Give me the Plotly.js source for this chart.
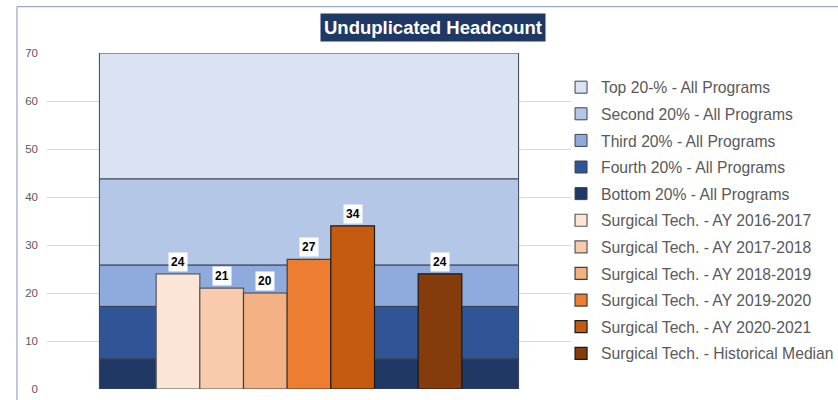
<!DOCTYPE html>
<html>
<head>
<meta charset="utf-8">
<script src="https://cdn.plot.ly/plotly-3.0.1.min.js"></script>
<style>
  html, body { margin: 0; padding: 0; background: #ffffff; }
  #chart { width: 838px; height: 400px; }
</style>
</head>
<body>
<div id="chart"></div>
<script>
// Benchmark bands (listed top to bottom), upper boundary of each band
const bandNames = ['Top 20-% - All Programs', 'Second 20% - All Programs', 'Third 20% - All Programs', 'Fourth 20% - All Programs', 'Bottom 20% - All Programs'];
const bandTops = [70, 43.75, 25.8, 17.2, 6.25];
const bandColors = ['#DAE3F3', '#B4C7E7', '#8FAADC', '#2F5597', '#203864'];

// Program series
const seriesNames = ['Surgical Tech. - AY 2016-2017', 'Surgical Tech. - AY 2017-2018', 'Surgical Tech. - AY 2018-2019', 'Surgical Tech. - AY 2019-2020', 'Surgical Tech. - AY 2020-2021', 'Surgical Tech. - Historical Median'];
const seriesValues = [24, 21, 20, 27, 34, 24];
const seriesPos = [1, 2, 3, 4, 5, 7];
const seriesColors = ['#FBE5D6', '#F8CBAD', '#F4B183', '#ED7D31', '#C55A11', '#843C0C'];
const seriesLines = ['#595959', '#595959', '#404040', '#404040', '#1a1a1a', '#1a1a1a'];

const yTicks = [0, 10, 20, 30, 40, 50, 60, 70];
const chartTitle = 'Unduplicated Headcount';

const FONT = 'Liberation Sans, Arial, sans-serif';
const traces = [];

bandNames.forEach((name, i) => {
  const lower = i < bandTops.length - 1 ? bandTops[i + 1] : 0;
  traces.push({
    type: 'bar',
    name: name,
    legendgroup: 'b' + i,
    x: [4],
    y: [bandTops[i] - lower],
    base: [lower],
    width: [9.6],
    marker: { color: bandColors[i], line: { color: '#3a4250', width: 1 } },
    hoverinfo: 'name'
  });
});

seriesNames.forEach((name, i) => {
  traces.push({
    type: 'bar',
    name: name,
    legendgroup: 's' + i,
    x: [seriesPos[i]],
    y: [seriesValues[i]],
    width: [1],
    marker: { color: seriesColors[i], line: { color: seriesLines[i], width: 1.2 } },
    hoverinfo: 'name+y'
  });
});

const annotations = seriesValues.map((v, i) => ({
  x: seriesPos[i], y: v, xref: 'x', yref: 'y',
  text: '<b>' + v + '</b>',
  showarrow: false, yanchor: 'bottom', yshift: 2,
  bgcolor: '#ffffff', borderpad: 2,
  font: { family: FONT, size: 12, color: '#000000' }
}));

annotations.push({
  xref: 'paper', yref: 'paper', x: 0.737, y: 1.076,
  xanchor: 'center', yanchor: 'middle',
  text: '<b>' + chartTitle + '</b>',
  showarrow: false, bgcolor: '#1F3864', borderpad: 3,
  font: { family: FONT, size: 18.5, color: '#ffffff' }
});

const layout = {
  width: 838, height: 400,
  margin: { l: 47, r: 267, t: 53, b: 11, pad: 0, autoexpand: false },
  paper_bgcolor: '#ffffff', plot_bgcolor: '#ffffff',
  barmode: 'overlay',
  showlegend: true,
  legend: {
    x: 0.981, xanchor: 'left', y: 0.948, yanchor: 'top',
    traceorder: 'grouped', tracegroupgap: 3.2,
    font: { family: FONT, size: 15.7, color: '#595959' },
    bgcolor: 'rgba(0,0,0,0)'
  },
  xaxis: {
    range: [-2, 10], showgrid: false, zeroline: false,
    showticklabels: false, ticks: '', showline: false, fixedrange: true
  },
  yaxis: {
    range: [0, 70], tickvals: yTicks, ticktext: yTicks.map(String),
    showgrid: true, gridcolor: '#D9D9D9', gridwidth: 1,
    zeroline: false, showline: false, ticks: '',
    ticklabelstandoff: 8, automargin: false,
    tickfont: { family: FONT, size: 11.5, color: '#595959' },
    fixedrange: true
  },
  annotations: annotations,
  shapes: [
    { type: 'line', xref: 'paper', yref: 'paper', layer: 'below',
      x0: -0.0573, x1: 1.6, y0: 1.1378, y1: 1.1378,
      line: { color: '#8497B0', width: 1 } },
    { type: 'line', xref: 'paper', yref: 'paper', layer: 'below',
      x0: -0.0573, x1: -0.0573, y0: 1.1378, y1: -0.1,
      line: { color: '#8497B0', width: 1 } }
  ]
};

Plotly.newPlot('chart', traces, layout, { displayModeBar: false, staticPlot: true });
</script>
</body>
</html>
